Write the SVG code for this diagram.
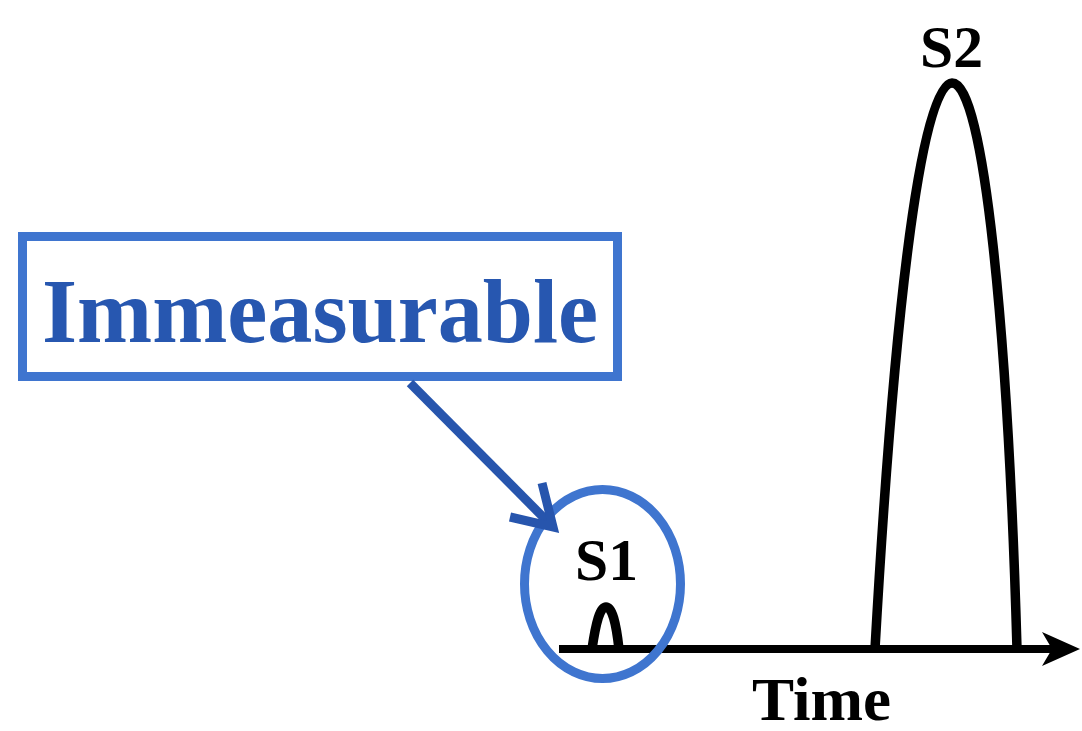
<svg xmlns="http://www.w3.org/2000/svg" width="1082" height="731" viewBox="0 0 1082 731">
<style>
.lbl{font-family:"Liberation Serif","Times New Roman",serif;font-weight:bold;fill:#000}
.blue{fill:none;stroke:#3F75CF;stroke-width:9}
.curve{fill:none;stroke:#000;stroke-width:9.5;stroke-linecap:butt}
</style>
<rect width="1082" height="731" fill="#fff"/>
<g id="axis">
<line x1="559" y1="649" x2="1056" y2="649" stroke="#000" stroke-width="8"/>
<path d="M1080 649 L1042 632 L1052 649 L1042 666 Z" fill="#000"/>
<text class="lbl" x="752" y="720" font-size="62" textLength="139" lengthAdjust="spacingAndGlyphs">Time</text>
</g>
<g id="s1">
<path class="curve" d="M592 649 C596 622 600 607 606 607 C612 607 616 622 619 649"/>
<text class="lbl" x="575" y="580" font-size="60" textLength="63" lengthAdjust="spacingAndGlyphs">S1</text>
</g>
<g id="s2">
<path class="curve" d="M875 649 C893 330 920 83 952 83 C984 83 1008 330 1017 649"/>
<text class="lbl" x="920" y="67" font-size="60" textLength="63" lengthAdjust="spacingAndGlyphs">S2</text>
</g>
<g id="circle">
<ellipse class="blue" cx="602.5" cy="584" rx="78" ry="94.5"/>
</g>
<g id="label">
<rect class="blue" x="22.5" y="236.5" width="595" height="140"/>
<text x="42" y="342" font-family="Liberation Serif,'Times New Roman',serif" font-weight="bold" font-size="92" fill="#2757B0" textLength="556" lengthAdjust="spacingAndGlyphs">Immeasurable</text>
</g>
<g id="connectors">
<line x1="410" y1="383" x2="551" y2="525" stroke="#2755AD" stroke-width="9"/>
<path d="M510 517 L553 527 L542 483" fill="none" stroke="#2755AD" stroke-width="9" stroke-linejoin="miter"/>
</g>
</svg>
